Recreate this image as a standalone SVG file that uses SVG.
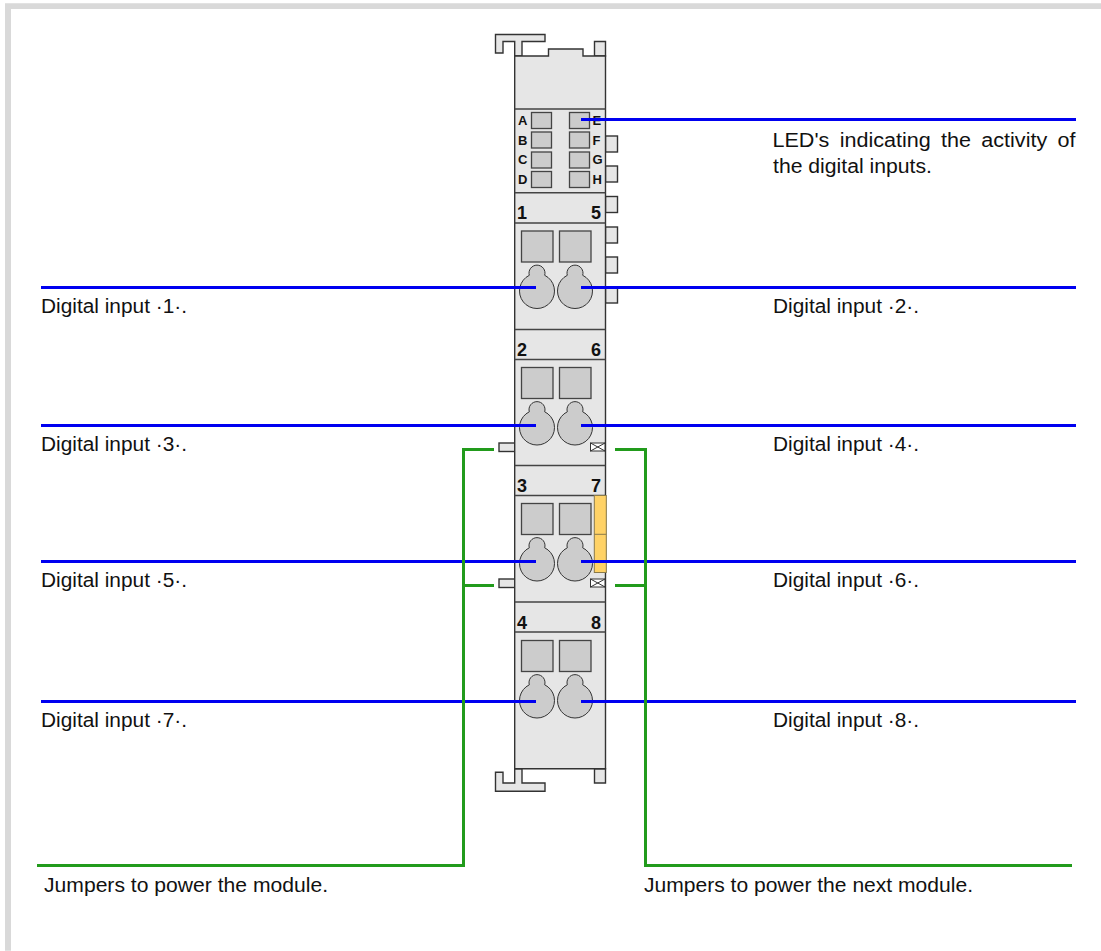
<svg xmlns="http://www.w3.org/2000/svg" width="1101" height="951" viewBox="0 0 1101 951">
<style>
text{font-family:"Liberation Sans",Arial,sans-serif;fill:#111}
.l{font-size:20px}
.b{font-size:18px;font-weight:bold}
.s{font-size:13px;font-weight:bold}
.body{fill:#e6e6e6;stroke:#333;stroke-width:1.4}
.sec{stroke:#444;stroke-width:1.4;fill:none}
.sq{fill:#ccc;stroke:#444;stroke-width:1.3}
.hole{fill:#ccc;stroke:#333;stroke-width:1}
.blue{stroke:#0000f0;stroke-width:3;fill:none}
.green{stroke:#229b1c;stroke-width:3;fill:none}
.x{fill:#fff;stroke:#333;stroke-width:1}
</style>
<defs>
<path id="hole" d="M-7.7,-15.7 A8,8 0 1 1 7.7,-15.7 A17.5,17.5 0 1 1 -7.7,-15.7 Z"/>
<g id="term">
<rect class="sq" x="521.5" y="0" width="31.5" height="31"/>
<rect class="sq" x="559.5" y="0" width="31.5" height="31"/>
<use href="#hole" class="hole" x="537" y="60"/>
<use href="#hole" class="hole" x="575" y="60"/>
</g>
<g id="xbox"><rect class="x" x="590.5" y="0" width="14.5" height="8"/><path d="M590.5,0 L605,8 M605,0 L590.5,8" stroke="#333" stroke-width="1" fill="none"/></g>
</defs>
<rect width="1101" height="951" fill="#fff"/>
<path d="M5,3.3 H1101 V9 H11 V950.7 H5 Z" fill="#d9d9d9"/>

<g id="module">
<path class="body" d="M495.5,34.5 H545 V41.5 H522 V56 H514.7 V41.5 H503 V53 H495.5 Z"/>
<path class="body" d="M594.5,56 V41.5 H605.5 V56 Z"/>
<g class="body">
<rect x="605.5" y="136" width="12" height="16"/><rect x="605.5" y="166" width="12" height="16"/><rect x="605.5" y="196.5" width="12" height="16"/><rect x="605.5" y="227" width="12" height="16"/><rect x="605.5" y="257" width="12" height="16"/><rect x="605.5" y="287" width="12" height="16"/>
<rect x="499" y="443" width="16" height="8.5"/><rect x="499" y="579" width="16" height="8.5"/>
</g>
<path class="body" d="M514.7,768.7 V783 H503 V772.3 H495.5 V791.3 H545 V783 H522 V768.7 Z"/>
<path class="body" d="M594.5,768.7 V783 H605.5 V768.7 Z"/>
<path class="body" d="M514.7,768.7 V56 H548.5 V49 H583 V56 H605.5 V768.7 Z"/>
<path class="sec" d="M514.7,109 H605.5 M514.7,192.7 H605.5 M514.7,223 H605.5 M514.7,329.5 H605.5 M514.7,359.5 H605.5 M514.7,465.5 H605.5 M514.7,495.5 H605.5 M514.7,602 H605.5 M514.7,632 H605.5"/>
</g>

<g id="leds">
<g class="sq">
<rect x="531.5" y="112.5" width="20" height="16"/><rect x="531.5" y="132" width="20" height="16"/><rect x="531.5" y="152" width="20" height="16"/><rect x="531.5" y="171.5" width="20" height="16"/>
<rect x="569.5" y="112.5" width="20" height="16"/><rect x="569.5" y="132" width="20" height="16"/><rect x="569.5" y="152" width="20" height="16"/><rect x="569.5" y="171.5" width="20" height="16"/>
</g>
<g class="s">
<text x="518" y="125">A</text><text x="518" y="145">B</text><text x="518" y="164.3">C</text><text x="518" y="184">D</text>
<text x="592.5" y="125">E</text><text x="592.5" y="145">F</text><text x="592.5" y="164.3">G</text><text x="592.5" y="184">H</text>
</g>
</g>

<g id="terminals">
<use href="#term" y="231"/><use href="#term" y="367.5"/><use href="#term" y="503.5"/><use href="#term" y="640.5"/>
<g class="b">
<text x="517" y="219.3">1</text><text x="591" y="219.3">5</text>
<text x="517" y="355.5">2</text><text x="591" y="355.5">6</text>
<text x="517" y="491.5">3</text><text x="591" y="491.5">7</text>
<text x="517" y="628.5">4</text><text x="591" y="628.5">8</text>
</g>
</g>

<g id="jumper-marks">
<use href="#xbox" y="443"/><use href="#xbox" y="579"/>
<rect x="594.3" y="495.5" width="12" height="77" fill="#ffd266" stroke="#8a7a4a" stroke-width="1"/>
<path d="M594.3,534.3 H606.3" stroke="#8a7a4a" stroke-width="1"/>
</g>

<g id="connectors">
<path class="blue" d="M581,119.5 H1076"/>
<path class="blue" d="M41,287.5 H536 M581,287.5 H1076"/>
<path class="blue" d="M41,425.5 H536 M581,425.5 H1076"/>
<path class="blue" d="M41,561.5 H536 M581,561.5 H1076"/>
<path class="blue" d="M41,701.5 H536 M581,701.5 H1076"/>
<path class="green" d="M37,865.5 H463.5 V449.5 H494 M463.5,585.5 H494"/>
<path class="green" d="M615,449.5 H645.5 V865.5 H1072 M615,585.5 H645.5"/>
</g>

<g id="labels" class="l">
<text x="772.5" y="146.7" textLength="303" lengthAdjust="spacingAndGlyphs" word-spacing="4">LED's indicating the activity of</text>
<text x="773" y="173.3" textLength="159" lengthAdjust="spacingAndGlyphs">the digital inputs.</text>
<text x="41" y="312.5" textLength="146" lengthAdjust="spacingAndGlyphs">Digital input ·1·.</text><text x="773" y="312.5" textLength="146" lengthAdjust="spacingAndGlyphs">Digital input ·2·.</text>
<text x="41" y="450.5" textLength="146" lengthAdjust="spacingAndGlyphs">Digital input ·3·.</text><text x="773" y="450.5" textLength="146" lengthAdjust="spacingAndGlyphs">Digital input ·4·.</text>
<text x="41" y="586.5" textLength="146" lengthAdjust="spacingAndGlyphs">Digital input ·5·.</text><text x="773" y="586.5" textLength="146" lengthAdjust="spacingAndGlyphs">Digital input ·6·.</text>
<text x="41" y="726.5" textLength="146" lengthAdjust="spacingAndGlyphs">Digital input ·7·.</text><text x="773" y="726.5" textLength="146" lengthAdjust="spacingAndGlyphs">Digital input ·8·.</text>
<text x="44" y="891.7" textLength="284" lengthAdjust="spacingAndGlyphs">Jumpers to power the module.</text>
<text x="644" y="891.7" textLength="329" lengthAdjust="spacingAndGlyphs">Jumpers to power the next module.</text>
</g>
</svg>
